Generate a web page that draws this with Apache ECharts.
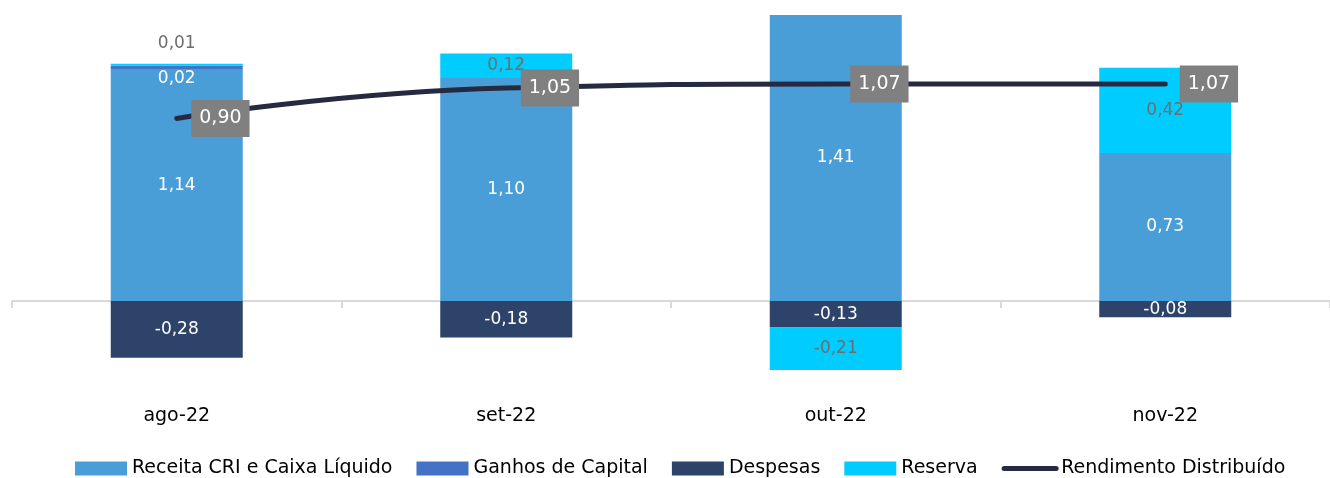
<!DOCTYPE html>
<html><head><meta charset="utf-8">
<script src="https://cdn.jsdelivr.net/npm/echarts@6/dist/echarts.min.js"></script>
<style>html,body{margin:0;padding:0;background:#fff}#c{width:1330px;height:478px}</style>
</head><body><div id="c"></div>
<script>
const categories = ['ago-22', 'set-22', 'out-22', 'nov-22'];
const receita = [1.14, 1.10, 1.41, 0.73];
const ganhos = [0.02, null, null, null];
const despesas = [-0.28, -0.18, -0.13, -0.08];
const reserva = [0.01, 0.12, -0.21, 0.42];
const rendimento = [0.90, 1.05, 1.07, 1.07];

const FONT = 'DejaVu Sans';
const fmt = p => (p.value == null ? '' : p.value.toFixed(2).replace('.', ','));
const chart = echarts.init(document.getElementById('c'));
const barLabel = (color) => ({show: true, position: 'inside', color: color, fontSize: 17, fontFamily: FONT, formatter: fmt});

chart.setOption({
  animation: false,
  grid: {left: 12, width: 1326, top: 15, height: 387.5},
  legend: {
    top: 459, left: 75, padding: 0, itemWidth: 52, itemHeight: 14, itemGap: 24,
    textStyle: {fontSize: 19, fontFamily: FONT, color: '#000'},
    data: [
      {name: 'Receita CRI e Caixa Líquido', icon: 'rect'},
      {name: 'Ganhos de Capital', icon: 'rect'},
      {name: 'Despesas', icon: 'rect'},
      {name: 'Reserva', icon: 'rect'},
      {name: 'Rendimento Distribuído', itemStyle: {opacity: 0}, lineStyle: {width: 5, cap: 'round', color: '#262a40'}}
    ]
  },
  xAxis: [
    {type: 'category', data: categories, axisLine: {onZero: true, lineStyle: {color: '#d9d9d9', width: 2}},
     axisTick: {show: true, length: 7, lineStyle: {color: '#d9d9d9', width: 2}}, axisLabel: {show: false}},
    {type: 'category', data: categories, position: 'bottom', axisLine: {show: false, onZero: false}, axisTick: {show: false},
     axisLabel: {show: true, margin: 4, fontSize: 19, fontFamily: FONT, color: '#000'}}
  ],
  yAxis: {type: 'value', min: -0.5, max: 1.41, show: false, splitLine: {show: false}},
  series: [
    {name: 'Receita CRI e Caixa Líquido', type: 'bar', stack: 's', barWidth: 132, data: receita,
     itemStyle: {color: '#4a9ed8'}, label: barLabel('#fff')},
    {name: 'Ganhos de Capital', type: 'bar', stack: 's', data: ganhos,
     itemStyle: {color: '#4472c4'}, label: Object.assign(barLabel('#fff'), {position: 'bottom', distance: 0})},
    {name: 'Despesas', type: 'bar', stack: 's', data: despesas,
     itemStyle: {color: '#2e4369'}, label: barLabel('#fff')},
    {name: 'Reserva', type: 'bar', stack: 's',
     data: reserva.map((v, i) => i === 0 ? {value: v, label: {position: 'top', distance: 12}} : v),
     itemStyle: {color: '#00ccff'}, label: barLabel('#6e6e6e')},
    {name: 'Rendimento Distribuído', type: 'line', smooth: true, symbol: 'circle', symbolSize: 1, showSymbol: true,
     data: rendimento, z: 10,
     lineStyle: {color: '#262a40', width: 5, cap: 'round'}, itemStyle: {color: '#262a40'},
     label: {show: true, position: 'right', distance: 14, backgroundColor: '#808080', color: '#fff',
             fontSize: 19, fontFamily: FONT, padding: [9, 8, 9, 8], formatter: fmt}}
  ]
});
</script></body></html>
